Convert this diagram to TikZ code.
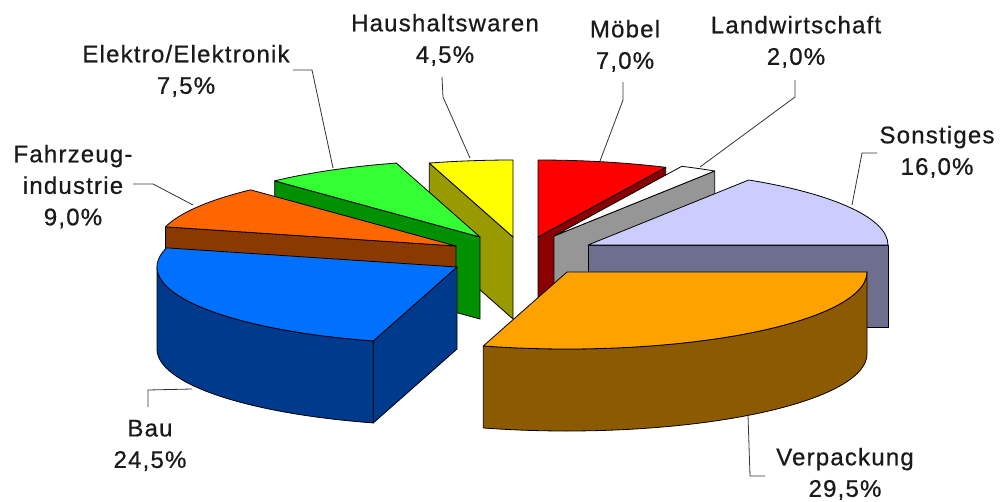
\documentclass[tikz,border=0pt]{standalone}
\usepackage{fontspec}
\newfontfamily\lab[LetterSpace=5,FakeBold=0.6]{Liberation Sans}
\definecolor{hhT}{HTML}{FFFF00}\definecolor{hhS}{HTML}{999900}
\definecolor{moT}{HTML}{FF0000}\definecolor{moS}{HTML}{8B0000}
\definecolor{lwT}{HTML}{FFFFFF}\definecolor{lwS}{HTML}{969696}
\definecolor{elT}{HTML}{33FF33}\definecolor{elS}{HTML}{009000}
\definecolor{fzT}{HTML}{FF6600}\definecolor{fzS}{HTML}{8A3A00}
\definecolor{soT}{HTML}{CCCCFF}\definecolor{soS}{HTML}{6E6E8E}
\definecolor{baT}{HTML}{0070FF}\definecolor{baS}{HTML}{003A8C}
\definecolor{vpT}{HTML}{FFA200}\definecolor{vpS}{HTML}{8C5A00}
\definecolor{txt}{HTML}{1A1A1A}
\tikzset{
  face/.style={draw=black, line width=0.8pt, line join=round},
  lbl/.style={font=\lab\fontsize{24}{31.5}\selectfont, text=txt, align=center, inner sep=0pt, anchor=north},
  leader/.style={draw=black!80, line width=0.8pt}
}
\begin{document}
\begin{tikzpicture}[x=1pt,y=-1pt]
\fill[white] (0,0) rectangle (1001,501);
\useasboundingbox (0,0) rectangle (1001,501);
% Haushaltswaren
\begin{scope}[shift={(513,237)}]
  \fill[face,fill=hhS] (0,0) -- (253.8:300 and 77) -- ++(0,82) -- (0,82) -- cycle;
  \fill[face,fill=hhT] (0,0) -- (253.8:300 and 77) arc[start angle=253.8,end angle=270,x radius=300,y radius=77] -- cycle;
\end{scope}
% Moebel
\begin{scope}[shift={(538,237)}]
  \fill[face,fill=moS] (0,0) -- (-64.8:300 and 77) -- ++(0,82) -- (0,82) -- cycle;
  \fill[face,fill=moT] (0,0) -- (-90:300 and 77) arc[start angle=-90,end angle=-64.8,x radius=300,y radius=77] -- cycle;
\end{scope}
% Landwirtschaft
\begin{scope}[shift={(554,236)}]
  \fill[face,fill=lwS] (0,0) -- (-57.6:300 and 77) -- ++(0,82) -- (0,82) -- cycle;
  \fill[face,fill=lwT] (0,0) -- (-64.8:300 and 77) arc[start angle=-64.8,end angle=-57.6,x radius=300,y radius=77] -- cycle;
\end{scope}
% Elektro
\begin{scope}[shift={(480,237)}]
  \fill[face,fill=elS] (0,0) -- (226.8:300 and 77) -- ++(0,82) -- (0,82) -- cycle;
  \fill[face,fill=elT] (0,0) -- (226.8:300 and 77) arc[start angle=226.8,end angle=253.8,x radius=300,y radius=77] -- cycle;
\end{scope}
% Fahrzeug
\begin{scope}[shift={(456,246)}]
  \fill[face,fill=fzS] (0,0) -- (194.4:300 and 77) -- ++(0,82) -- (0,82) -- cycle;
  \fill[face,fill=fzT] (0,0) -- (194.4:300 and 77) arc[start angle=194.4,end angle=226.8,x radius=300,y radius=77] -- cycle;
\end{scope}
% Sonstiges
\begin{scope}[shift={(588,245)}]
  \fill[face,fill=soS] (0,0) -- (0:300 and 77) -- ++(0,82) -- (0,82) -- cycle;
  \fill[face,fill=soT] (0,0) -- (-57.6:300 and 77) arc[start angle=-57.6,end angle=0,x radius=300,y radius=77] -- cycle;
\end{scope}
% Bau
\begin{scope}[shift={(457,267)}]
  \fill[face,fill=baS] (0,0) -- (106.2:300 and 77) -- ++(0,82) -- (0,82) -- cycle;
  \fill[face,fill=baS] (106.2:300 and 77) arc[start angle=106.2,end angle=180,x radius=300,y radius=77] -- ++(0,82) arc[start angle=180,end angle=106.2,x radius=300,y radius=77] -- cycle;
  \fill[face,fill=baT] (0,0) -- (106.2:300 and 77) arc[start angle=106.2,end angle=194.4,x radius=300,y radius=77] -- cycle;
\end{scope}
% Verpackung
\begin{scope}[shift={(567,272)}]
  \fill[face,fill=vpS] (0:300 and 77) arc[start angle=0,end angle=106.2,x radius=300,y radius=77] -- ++(0,82) arc[start angle=106.2,end angle=0,x radius=300,y radius=77] -- cycle;
  \fill[face,fill=vpT] (0,0) -- (0:300 and 77) arc[start angle=0,end angle=106.2,x radius=300,y radius=77] -- cycle;
\end{scope}
% labels
\node[lbl] (lEl) at (186,44.7) {Elektro/Elektronik\\7,5\%};
\node[lbl] (lHh) at (445,13.7) {Haushaltswaren\\4,5\%};
\node[lbl] (lMo) at (625,19.7) {Möbel\\7,0\%};
\node[lbl] (lLw) at (796,15.7) {Landwirtschaft\\2,0\%};
\node[lbl] (lSo) at (937,125.7) {Sonstiges\\16,0\%};
\node[lbl] (lFz) at (73,144.7) {Fahrzeug-\\industrie\\9,0\%};
\node[lbl] (lBa) at (150,419.7) {Bau\\24,5\%};
\node[lbl] (lVp) at (845,447.7) {Verpackung\\29,5\%};
% leader coordinates
\coordinate (eA) at (293,70); \coordinate (eB) at (312,70); \coordinate (eC) at (333,168);
\coordinate (hA) at (442,77); \coordinate (hB) at (443,97); \coordinate (hC) at (470,158);
\coordinate (mA) at (623,82); \coordinate (mB) at (623,100); \coordinate (mC) at (600,161);
\coordinate (wA) at (795,80); \coordinate (wB) at (795,97); \coordinate (wC) at (700,167);
\coordinate (sA) at (877,153); \coordinate (sB) at (862,153); \coordinate (sC) at (852,205);
\coordinate (fA) at (133,184); \coordinate (fB) at (153,184); \coordinate (fC) at (193,205);
\coordinate (bA) at (148,407); \coordinate (bB) at (148,390); \coordinate (bC) at (192,389);
\coordinate (vA) at (765,476); \coordinate (vB) at (750,476); \coordinate (vC) at (748,415);
\draw[leader] (eA) -- (eB) -- (eC);
\draw[leader] (hA) -- (hB) -- (hC);
\draw[leader] (mA) -- (mB) -- (mC);
\draw[leader] (wA) -- (wB) -- (wC);
\draw[leader] (sA) -- (sB) -- (sC);
\draw[leader] (fA) -- (fB) -- (fC);
\draw[leader] (bA) -- (bB) -- (bC);
\draw[leader] (vA) -- (vB) -- (vC);
\end{tikzpicture}
\end{document}
